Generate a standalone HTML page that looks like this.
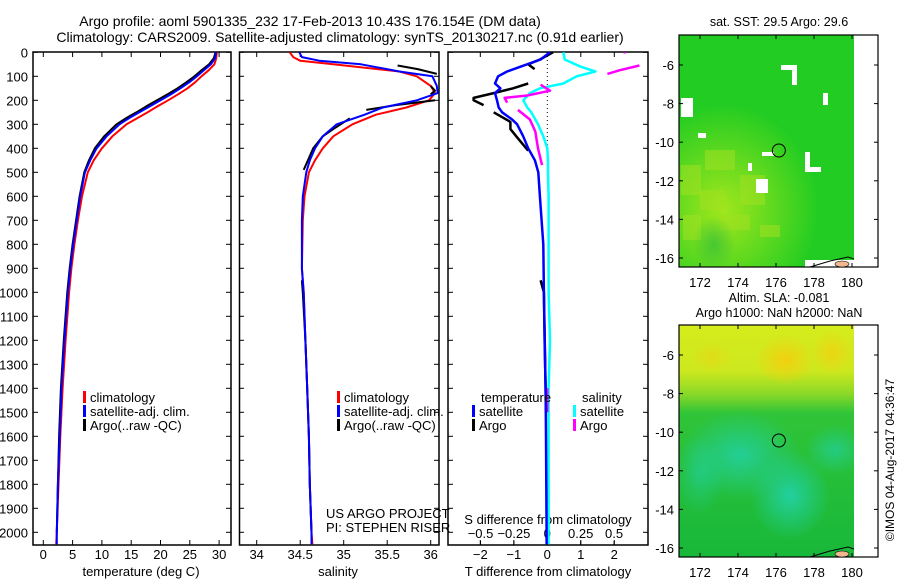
<!DOCTYPE html>
<html><head><meta charset="utf-8"><style>
body{margin:0;background:#fff;}
svg{display:block;font-family:"Liberation Sans",sans-serif;}
</style></head><body>
<svg id="c" width="900" height="580" xmlns="http://www.w3.org/2000/svg">
<defs>
<clipPath id="m1"><rect x="679" y="35" width="175" height="232"/></clipPath>
<clipPath id="m2"><rect x="679" y="325" width="175" height="232"/></clipPath>
<radialGradient id="sstY" cx="0.25" cy="0.7" r="0.55"><stop offset="0" stop-color="#a8e81c" stop-opacity="0.95"/><stop offset="1" stop-color="#a8e81c" stop-opacity="0"/></radialGradient>
<radialGradient id="sstD" cx="0.2" cy="0.9" r="0.12"><stop offset="0" stop-color="#28b840" stop-opacity="0.6"/><stop offset="1" stop-color="#28b840" stop-opacity="0"/></radialGradient>
<linearGradient id="slaG" x1="0" y1="0" x2="0" y2="1"><stop offset="0" stop-color="#d6ec1c"/><stop offset="0.2" stop-color="#cce81e"/><stop offset="0.3" stop-color="#88d828"/><stop offset="0.38" stop-color="#30c438"/><stop offset="1" stop-color="#18b83a"/></linearGradient>
<radialGradient id="slaO1" cx="0.5" cy="0.5" r="0.5"><stop offset="0" stop-color="#f2d010"/><stop offset="1" stop-color="#f2d010" stop-opacity="0"/></radialGradient>
<radialGradient id="slaT" cx="0.5" cy="0.5" r="0.5"><stop offset="0" stop-color="#22d0a0"/><stop offset="1" stop-color="#22d0a0" stop-opacity="0"/></radialGradient>
</defs>
<g id="titles" font-size="14" text-anchor="middle">
<text x="310" y="26">Argo profile: aoml 5901335_232 17-Feb-2013 10.43S 176.154E (DM data)</text>
<text x="340" y="42">Climatology: CARS2009. Satellite-adjusted climatology: synTS_20130217.nc (0.91d earlier)</text>
</g>
<g id="plots"></g>
<g id="maps"></g>
</svg>
<script>
// ---- data ----
const tDepth = [0,25,50,75,100,125,150,175,200,225,250,275,300,350,400,450,500,600,700,800,900,1000,1200,1400,1600,1800,2000,2050];
const tClim  = [29.6,29.5,29.2,28.2,27.0,25.9,24.6,23.0,21.3,19.5,17.8,16.0,14.2,11.8,10.0,8.6,7.6,6.6,5.9,5.3,4.8,4.4,3.8,3.3,2.9,2.6,2.3,2.2];
const tSat   = [29.5,29.3,28.6,27.4,26.2,24.9,23.4,21.8,20.0,18.2,16.4,14.6,13.0,10.8,9.1,8.0,7.1,6.3,5.7,5.1,4.6,4.2,3.6,3.1,2.8,2.5,2.3,2.3];
const tArgo  = [29.4,29.1,28.3,27.0,25.8,24.4,22.9,21.2,19.4,17.6,15.9,14.1,12.5,10.4,8.8,7.8,7.0,6.2,5.6,5.0,4.5,4.1,3.5,3.0,2.7,2.5,2.3,null];
const sDepth = [0,20,35,50,80,100,140,170,200,230,260,300,350,400,450,500,600,700,900,1000,1200,1400,1600,1800,2000,2050];
const sClim  = [34.38,34.42,34.5,34.88,35.64,35.84,36.0,36.05,35.98,35.72,35.37,35.1,34.88,34.76,34.67,34.6,34.55,34.53,34.52,34.54,34.56,34.58,34.6,34.61,34.63,34.64];
const sSat   = [34.49,34.52,34.72,35.2,35.64,36.02,36.07,36.08,35.84,35.45,35.24,34.92,34.76,34.67,34.61,34.57,34.53,34.52,34.52,34.54,34.56,34.58,34.6,34.61,34.63,34.63];
const sArgoDepth = [55,70,90,null,140,160,175,null,200,220,240,null,275,320,350,400,490,null,950,1000,1200,1400,1600,1800,2000];
const sArgo      = [35.62,35.85,36.07,null,36.0,36.05,36.0,null,36.05,35.6,35.26,null,35.07,34.88,34.76,34.65,34.54,null,34.52,34.53,34.56,34.58,34.6,34.61,34.63];
const dtDepth = [0,30,60,80,100,130,150,170,200,230,250,280,300,350,400,450,500,600,700,800,1000,1200,1400,1600,1800,2000,2050];
const dtSat   = [0.08,-0.2,-0.8,-1.2,-1.47,-1.56,-1.4,-1.56,-1.5,-1.45,-1.35,-1.05,-0.9,-0.72,-0.57,-0.37,-0.27,-0.22,-0.17,-0.12,-0.1,-0.08,-0.05,-0.04,-0.03,-0.02,-0.02];
const dsSat   = [0.12,0.13,0.25,0.36,0.22,0.12,-0.055,-0.13,-0.18,-0.15,-0.12,-0.09,-0.07,-0.03,0,0.005,0.005,0.01,0.01,0.01,0.01,0.02,0.01,0.01,0.01,0.01,0.01];
const dtArgoDepth = [0,30,50,70,null,130,150,170,190,200,220,null,250,290,320,360,410,null,950,1000,1400,1500];
const dtArgo      = [0.17,-0.22,-0.57,-0.38,null,-0.57,-1.02,-1.6,-2.2,-2.2,-1.9,null,-1.6,-1.1,-1.1,-0.87,-0.57,null,-0.2,-0.1,-0.05,-0.04];
const dsArgoDepth = [0,5,null,55,75,90,null,135,160,180,190,210,null,240,280,330,400,470,null,1400,1500];
const dsArgo      = [0.58,0.58,null,0.69,0.54,0.45,null,-0.05,0.02,-0.15,-0.32,-0.3,null,-0.22,-0.13,-0.09,-0.07,-0.04,null,0.0,0.0];
const depthTicks = [0,100,200,300,400,500,600,700,800,900,1000,1100,1200,1300,1400,1500,1600,1700,1800,1900,2000];
const tTicks = [0,5,10,15,20,25,30];
const sTicks = [34,34.5,35,35.5,36];
const dtTicks = [-2,-1,0,1,2];
const dsTicks = [-0.5,-0.25,0,0.25,0.5];
const dsTickLabels = ["-0.5","-0.25","0","0.25","0.5"];
const lonTicks = [172,174,176,178,180];
const latTicks = [-6,-8,-10,-12,-14,-16];

// ---- scales ----
const NS="http://www.w3.org/2000/svg";
const TOP=52, BOT=545;
const yD = d => 52.3 + d*0.24;
const xT = t => 43.3 + t*5.86;
const xS = s => 256.7 + (s-34)*87;
const xDT = t => 547.3 + t*33.5;
const xDS = s => 547.3 + s*133.5;
const xLon = l => 700 + (l-172)*19;
const yLat1 = l => 65 + (-6-l)*19.3;
const yLat2 = l => 355 + (-6-l)*19.3;
function el(tag, attrs, parent){const e=document.createElementNS(NS,tag);for(const k in attrs)e.setAttribute(k,attrs[k]);parent.appendChild(e);return e;}
const plots=document.getElementById('plots');

function line(xs, ds, xf, color, w, name, parent){
  let d="", pen=false;
  for(let i=0;i<xs.length;i++){
    if(xs[i]===null||ds[i]===null){pen=false;continue;}
    d+=(pen?"L":"M")+xf(xs[i]).toFixed(1)+" "+yD(ds[i]).toFixed(1);pen=true;
  }
  const p=el('path',{d:d,fill:'none',stroke:color,'stroke-width':w,'stroke-linejoin':'round'},parent);
  
  
}
function frame(x0,x1,name){
  const g=el('g',{},plots);
  
  
  el('rect',{x:x0,y:TOP,width:x1-x0,height:BOT-TOP,fill:'none',stroke:'#000','stroke-width':1.5},g);
  return g;
}
function xAxis(g,ticks,labels,xf,yLab,name){
  ticks.forEach((t,i)=>{
    const x=xf(t);
    el('line',{x1:x,x2:x,y1:BOT,y2:BOT-5,stroke:'#000'},g);
    el('line',{x1:x,x2:x,y1:TOP,y2:TOP+5,stroke:'#000'},g);
    const tx=el('text',{x:x,y:yLab,'font-size':13,'text-anchor':'middle'},g);
    tx.textContent=labels[i];
    
    
  });
}
function legend(g,x,y,items){
  items.forEach((it,i)=>{
    el('rect',{x:x,y:y+i*14-11,width:3,height:12,fill:it[0]},g);
    const t=el('text',{x:x+7,y:y+i*14,'font-size':13},g);
    t.textContent=it[1];
    
    
  });
}

// panel 1
const g1=frame(33,231,'temperature-panel');
depthTicks.forEach(d=>{
  const y=yD(d);
  el('line',{x1:33,x2:38,y1:y,y2:y,stroke:'#000'},g1);
  el('line',{x1:231,x2:226,y1:y,y2:y,stroke:'#000'},g1);
  const t=el('text',{x:28,y:y+5,'font-size':13,'text-anchor':'end'},g1);
  t.textContent=d;
  
  
});
xAxis(g1,tTicks,tTicks.map(String),xT,559,'temperature');
let t1=el('text',{x:141,y:576,'font-size':13,'text-anchor':'middle'},g1);t1.textContent='temperature (deg C)';


line(tClim,tDepth,xT,'#ff0000',2,'temperature-climatology-line',g1);
line(tArgo,tDepth,xT,'#000',2,'temperature-argo-line',g1);
line(tSat,tDepth,xT,'#0000ff',2,'temperature-satellite-line',g1);
legend(g1,83,402,[['#f00','climatology'],['#00f','satellite-adj. clim.'],['#000','Argo(..raw -QC)']]);

// panel 2
const g2=frame(239.5,439,'salinity-panel');
depthTicks.forEach(d=>{const y=yD(d);el('line',{x1:239.5,x2:244,y1:y,y2:y,stroke:'#000'},g2);el('line',{x1:439,x2:434,y1:y,y2:y,stroke:'#000'},g2);});
xAxis(g2,sTicks,sTicks.map(String),xS,559,'salinity');
let t2=el('text',{x:338,y:576,'font-size':13,'text-anchor':'middle'},g2);t2.textContent='salinity';


line(sClim,sDepth,xS,'#ff0000',2,'salinity-climatology-line',g2);
line(sArgo,sArgoDepth,xS,'#000',2,'salinity-argo-line',g2);
line(sSat,sDepth,xS,'#0000ff',2,'salinity-satellite-line',g2);
legend(g2,337,402,[['#f00','climatology'],['#00f','satellite-adj. clim.'],['#000','Argo(..raw -QC)']]);
let a1=el('text',{x:326,y:518,'font-size':13},g2);a1.textContent='US ARGO PROJECT';


let a2=el('text',{x:326,y:532,'font-size':13},g2);a2.textContent='PI: STEPHEN RISER';



// panel 3
const g3=frame(448,648,'difference-panel');
depthTicks.forEach(d=>{const y=yD(d);el('line',{x1:448,x2:453,y1:y,y2:y,stroke:'#000'},g3);el('line',{x1:648,x2:643,y1:y,y2:y,stroke:'#000'},g3);});
dtTicks.forEach(t=>{const x=xDT(t);el('line',{x1:x,x2:x,y1:BOT,y2:BOT-5,stroke:'#000'},g3);el('line',{x1:x,x2:x,y1:TOP,y2:TOP+5,stroke:'#000'},g3);
  const tx=el('text',{x:x,y:559,'font-size':13,'text-anchor':'middle'},g3);tx.textContent=String(t).replace('-','\u2212');
  
  });
dsTicks.forEach((s,i)=>{const x=xDS(s);el('line',{x1:x,x2:x,y1:BOT,y2:BOT-4,stroke:'#000'},g3);
  const tx=el('text',{x:x,y:538,'font-size':13,'text-anchor':'middle'},g3);tx.textContent=dsTickLabels[i].replace('-','\u2212');
  
  });
let t3=el('text',{x:548,y:524,'font-size':13,'text-anchor':'middle'},g3);t3.textContent='S difference from climatology';


let t4=el('text',{x:548,y:576,'font-size':13,'text-anchor':'middle'},g3);t4.textContent='T difference from climatology';


el('line',{x1:xDT(0),x2:xDT(0),y1:TOP,y2:yD(480),stroke:'#000','stroke-dasharray':'1 3'},g3);
line(dsSat,dtDepth,xDS,'#00ffff',2.5,'salinity-satellite-diff-line',g3);
line(dsArgo,dsArgoDepth,xDS,'#ff00ff',2.5,'salinity-argo-diff-line',g3);
line(dtArgo,dtArgoDepth,xDT,'#000',2.5,'temperature-argo-diff-line',g3);
line(dtSat,dtDepth,xDT,'#0000ff',2.5,'temperature-satellite-diff-line',g3);
let lt=el('text',{x:481,y:402,'font-size':13},g3);lt.textContent='temperature';


let ls=el('text',{x:582,y:402,'font-size':13},g3);ls.textContent='salinity';


legend(g3,472,416,[['#00f','satellite'],['#000','Argo']]);
legend(g3,573,416,[['#0ff','satellite'],['#f0f','Argo']]);

// ---- maps ----
const maps=document.getElementById('maps');
function mapFrame(y0,yLat,clip,name,titleLines,fieldFn){
  const g=el('g',{},maps);
  
  
  const f=el('g',{'clip-path':'url(#'+clip+')'},g);
  fieldFn(f,y0);
  el('rect',{x:679,y:y0,width:199,height:232,fill:'none',stroke:'#000','stroke-width':1.2},g);
  lonTicks.forEach(l=>{const x=xLon(l);el('line',{x1:x,x2:x,y1:y0,y2:y0+4,stroke:'#000'},g);el('line',{x1:x,x2:x,y1:y0+232,y2:y0+228,stroke:'#000'},g);
    const t=el('text',{x:x,y:y0+252,'font-size':13,'text-anchor':'middle'},g);t.textContent=l;
    
    });
  latTicks.forEach(l=>{const y=yLat(l);el('line',{x1:679,x2:683,y1:y,y2:y,stroke:'#000'},g);el('line',{x1:878,x2:874,y1:y,y2:y,stroke:'#000'},g);
    const t=el('text',{x:674,y:y+5,'font-size':13,'text-anchor':'end'},g);t.textContent=l;
    
    });
  titleLines.forEach((s,i)=>{const t=el('text',{x:779,y:y0-23+i*15+(titleLines.length==1?14:0),'font-size':12.5,'text-anchor':'middle'},g);t.textContent=s;
    
    });
  el('circle',{cx:xLon(176.15),cy:yLat(-10.43),r:6.5,fill:'none',stroke:'#000','stroke-width':1},g);
  el('path',{d:`M810 ${y0+232} L830 ${y0+226} L848 ${y0+222} L854 ${y0+224}`,fill:'none',stroke:'#000'},g);
  el('ellipse',{cx:842,cy:y0+229,rx:7,ry:3,fill:'#f0b890',stroke:'#000','stroke-width':0.6},g);
}
mapFrame(35,yLat1,'m1','sst-map',['sat. SST: 29.5 Argo: 29.6'],(f,y0)=>{
  el('rect',{x:679,y:y0,width:175,height:232,fill:'#22cc22'},f);
  el('rect',{x:679,y:y0+40,width:175,height:192,fill:'url(#sstY)'},f);
  [[681,165,20,30],[700,190,25,20],[740,175,25,30],[683,215,18,25],[720,215,30,15],[760,225,20,12],[705,150,30,20]].forEach(r=>el('rect',{x:r[0],y:r[1],width:r[2],height:r[3],fill:'#a0e020',opacity:0.55},f));
  el('rect',{x:679,y:y0,width:175,height:232,fill:'url(#sstD)'},f);
  el('rect',{x:854,y:y0,width:24,height:232,fill:'#fff'},f);
  [[681,98,12,19],[698,133,8,5],[762,152,12,4],[748,163,4,8],[756,179,12,14],[805,152,5,20],[805,167,16,5],[781,65,15,5],[792,65,5,20],[823,93,5,12]].forEach(r=>el('rect',{x:r[0],y:r[1],width:r[2],height:r[3],fill:'#fff'},f));
  el('rect',{x:805,y:y0+225,width:49,height:7,fill:'#fff'},f);
});
mapFrame(325,yLat2,'m2','sla-map',['Altim. SLA: -0.081','Argo h1000: NaN h2000: NaN'],(f,y0)=>{
  el('rect',{x:679,y:y0,width:175,height:232,fill:'url(#slaG)'},f);
  el('ellipse',{cx:785,cy:y0+35,rx:30,ry:25,fill:'url(#slaO1)'},f);
  el('ellipse',{cx:832,cy:y0+28,rx:22,ry:22,fill:'url(#slaO1)',opacity:0.8},f);
  el('ellipse',{cx:712,cy:y0+32,rx:20,ry:16,fill:'url(#slaO1)',opacity:0.5},f);
  el('ellipse',{cx:740,cy:y0+130,rx:60,ry:45,fill:'url(#slaT)',opacity:0.9},f);
  el('ellipse',{cx:790,cy:y0+170,rx:40,ry:45,fill:'url(#slaT)'},f);
  el('ellipse',{cx:835,cy:y0+125,rx:30,ry:25,fill:'url(#slaT)',opacity:0.7},f);
  el('ellipse',{cx:700,cy:y0+150,rx:25,ry:40,fill:'url(#slaT)',opacity:0.6},f);
  el('rect',{x:854,y:y0,width:24,height:232,fill:'#fff'},f);
});
const cr=el('text',{x:894,y:460,'font-size':12,'text-anchor':'middle',transform:'rotate(-90 894 460)'},maps);
cr.textContent='\u00A9IMOS 04-Aug-2017 04:36:47';


</script>
</body></html>
